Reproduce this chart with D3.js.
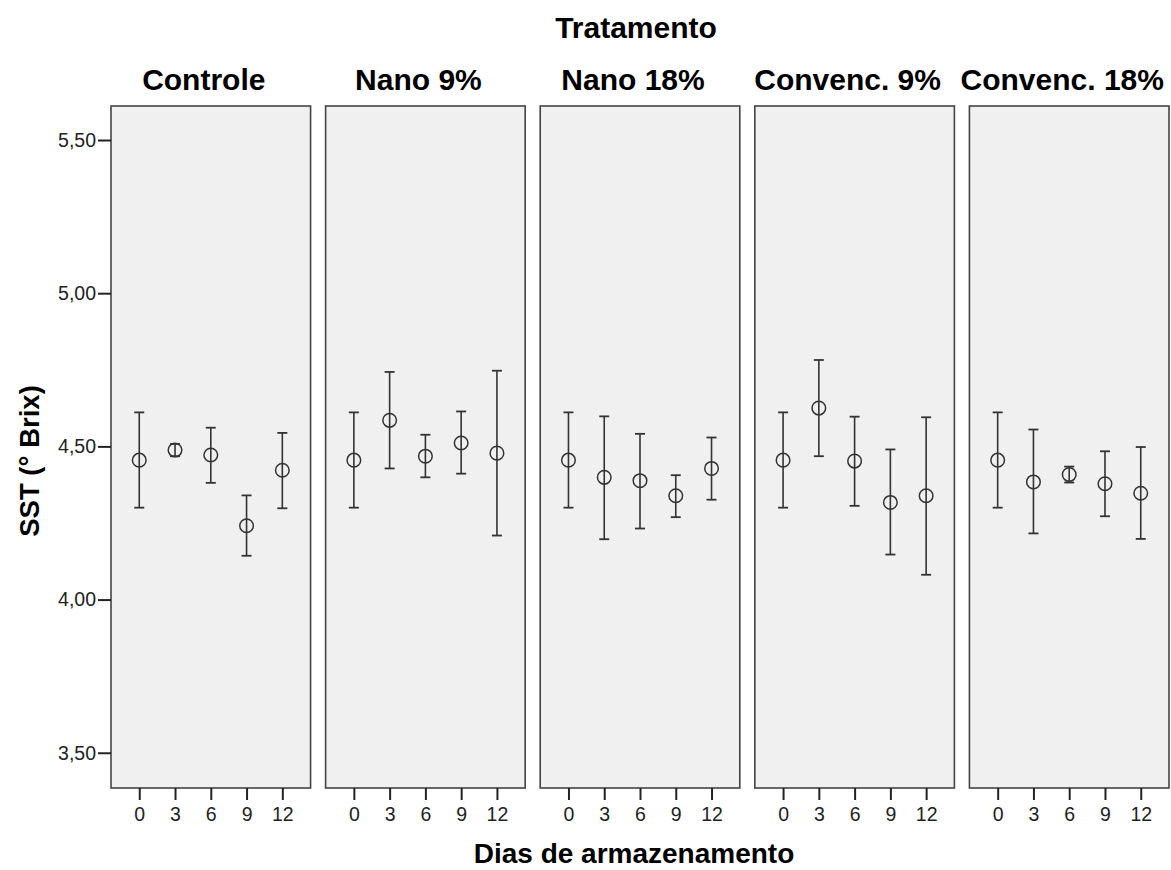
<!DOCTYPE html>
<html>
<head>
<meta charset="utf-8">
<script src="https://cdn.jsdelivr.net/npm/d3@7"></script>
<style>
  html, body { margin: 0; padding: 0; background: #fff; }
  svg { display: block; }
  text { font-family: "Liberation Sans", Arial, sans-serif; }
</style>
</head>
<body>
<svg id="chart" width="1171" height="870"></svg>
<script>
// ---- data ----
const treatments = ["Controle", "Nano 9%", "Nano 18%", "Convenc. 9%", "Convenc. 18%"];
const days = [0, 3, 6, 9, 12];
const yTicks = [3.5, 4.0, 4.5, 5.0, 5.5];

const meanControle = [4.455, 4.488, 4.472, 4.241, 4.422];
const lowControle  = [4.300, 4.468, 4.381, 4.143, 4.298];
const highControle = [4.611, 4.508, 4.561, 4.340, 4.544];

const meanNano9 = [4.455, 4.585, 4.468, 4.511, 4.478];
const lowNano9  = [4.300, 4.428, 4.399, 4.411, 4.209];
const highNano9 = [4.611, 4.743, 4.538, 4.614, 4.747];

const meanNano18 = [4.455, 4.399, 4.388, 4.339, 4.428];
const lowNano18  = [4.300, 4.197, 4.232, 4.269, 4.326];
const highNano18 = [4.611, 4.598, 4.541, 4.406, 4.529];

const meanConv9 = [4.455, 4.625, 4.452, 4.317, 4.339];
const lowConv9  = [4.300, 4.468, 4.306, 4.147, 4.081];
const highConv9 = [4.611, 4.782, 4.597, 4.490, 4.595];

const meanConv18 = [4.455, 4.384, 4.408, 4.378, 4.347];
const lowConv18  = [4.300, 4.216, 4.382, 4.272, 4.198];
const highConv18 = [4.611, 4.555, 4.434, 4.484, 4.498];

const means = [meanControle, meanNano9, meanNano18, meanConv9, meanConv18];
const lows  = [lowControle, lowNano9, lowNano18, lowConv9, lowConv18];
const highs = [highControle, highNano9, highNano18, highConv9, highConv18];

// ---- layout ----
const svg = d3.select("#chart");
const plotTop = 106, plotBottom = 788;
const fx = d3.scaleBand().domain(treatments).range([111, 1169]).paddingInner(0.07).paddingOuter(0);
const x = d3.scalePoint().domain(days).range([0, fx.bandwidth()]).padding(0.79);
const y = d3.scaleLinear().domain([3.385, 5.611]).range([plotBottom, plotTop]);

const locale = d3.formatLocale({decimal: ",", thousands: ".", grouping: [3], currency: ["", ""]});
const fmt = locale.format(".2f");

const lineColor = "#333";
const tickFont = 19.5;

// Panels
treatments.forEach((t, i) => {
  const g = svg.append("g").attr("transform", `translate(${fx(t)},0)`);
  g.append("rect")
    .attr("x", 0).attr("y", plotTop)
    .attr("width", fx.bandwidth()).attr("height", plotBottom - plotTop)
    .attr("fill", "#f0f0f0").attr("stroke", "#444").attr("stroke-width", 1.6);

  // x axis
  const xa = g.append("g").attr("transform", `translate(0,${plotBottom})`)
    .call(d3.axisBottom(x).tickSize(12).tickPadding(7));
  xa.select(".domain").remove();
  xa.selectAll(".tick line").attr("stroke", "#222").attr("stroke-width", 2);
  xa.selectAll(".tick text").attr("font-size", tickFont).attr("fill", "#222")
    .attr("font-family", "Liberation Sans, Arial, sans-serif");

  // panel title
  g.append("text")
    .attr("x", fx.bandwidth() / 2 - 7).attr("y", 90)
    .attr("text-anchor", "middle").attr("font-weight", "bold")
    .attr("font-size", 30).attr("fill", "#000").text(t);

  const pts = days.map((d, j) => ({d, m: means[i][j], lo: lows[i][j], hi: highs[i][j]}));
  const cap = 5;
  const eg = g.selectAll("g.err").data(pts).enter().append("g").attr("class", "err");
  eg.append("line")
    .attr("x1", p => x(p.d)).attr("x2", p => x(p.d))
    .attr("y1", p => y(p.lo)).attr("y2", p => y(p.hi))
    .attr("stroke", lineColor).attr("stroke-width", 1.6);
  eg.append("line")
    .attr("x1", p => x(p.d) - cap).attr("x2", p => x(p.d) + cap)
    .attr("y1", p => y(p.hi)).attr("y2", p => y(p.hi))
    .attr("stroke", lineColor).attr("stroke-width", 1.8);
  eg.append("line")
    .attr("x1", p => x(p.d) - cap).attr("x2", p => x(p.d) + cap)
    .attr("y1", p => y(p.lo)).attr("y2", p => y(p.lo))
    .attr("stroke", lineColor).attr("stroke-width", 1.8);
  eg.append("circle")
    .attr("cx", p => x(p.d)).attr("cy", p => y(p.m)).attr("r", 6.8)
    .attr("fill", "none").attr("stroke", lineColor).attr("stroke-width", 1.5);
});

// y axis
const ya = svg.append("g").attr("transform", `translate(${fx(treatments[0])},0)`)
  .call(d3.axisLeft(y).tickValues(yTicks).tickFormat(fmt).tickSize(13).tickPadding(2));
ya.select(".domain").remove();
ya.selectAll(".tick line").attr("stroke", "#222").attr("stroke-width", 2);
ya.selectAll(".tick text").attr("font-size", tickFont).attr("fill", "#222")
  .attr("font-family", "Liberation Sans, Arial, sans-serif");

// titles
svg.append("text").attr("x", 636).attr("y", 38)
  .attr("text-anchor", "middle").attr("font-weight", "bold").attr("font-size", 30)
  .text("Tratamento");

svg.append("text").attr("x", 634).attr("y", 863)
  .attr("text-anchor", "middle").attr("font-weight", "bold").attr("font-size", 28)
  .text("Dias de armazenamento");

svg.append("text")
  .attr("transform", "translate(39,461) rotate(-90)")
  .attr("text-anchor", "middle").attr("font-weight", "bold").attr("font-size", 27.5)
  .text("SST (° Brix)");
</script>
</body>
</html>
